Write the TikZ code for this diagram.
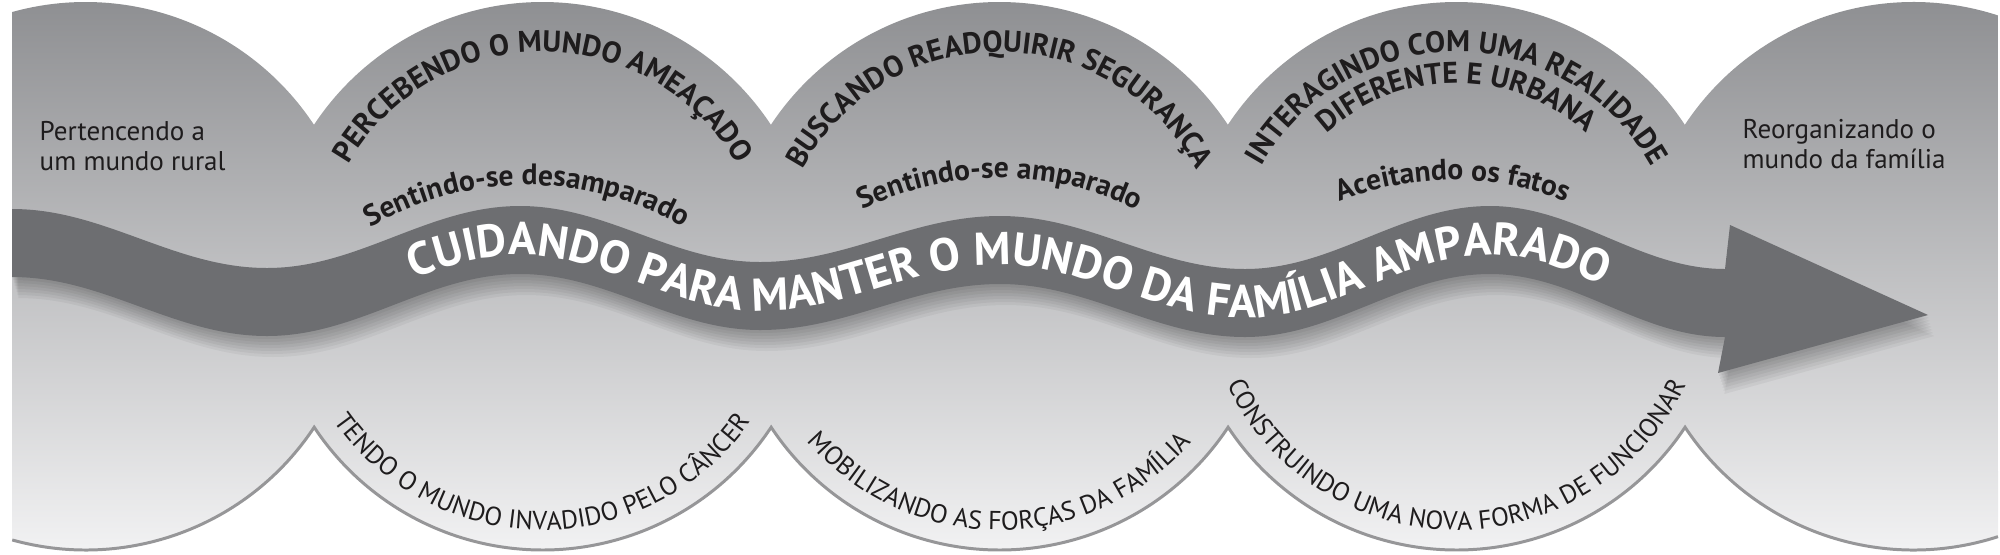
\documentclass[tikz,border=0pt]{standalone}
\usepackage{fontspec}
\setmainfont{PT Sans}
\usetikzlibrary{decorations.text}

\definecolor{bandgray}{RGB}{109,110,113}
\definecolor{rimgray}{RGB}{150,150,152}
\definecolor{topgray}{RGB}{138,139,142}
\definecolor{lowgray}{RGB}{246,246,247}
\definecolor{inkgray}{RGB}{30,28,29}

\newcommand{\bandfont}{\fontsize{13.1}{14}\selectfont\bfseries}
\newcommand{\arcbold}{\fontsize{8.5}{10}\selectfont\bfseries}
\newcommand{\arclight}{\fontsize{7.4}{9}\selectfont}
\newcommand{\feelfont}{\fontsize{8.4}{9.5}\selectfont\bfseries}
\newcommand{\sidefont}{\fontsize{7.7}{8.4}\selectfont}
% outline of the wavy arrow
\newcommand{\bandpath}{(12,-209) cos (139.5,-238.5) sin (267,-268) cos (393.5,-237) sin (520,-206)
  cos (640,-234) sin (760,-262) cos (880,-239) sin (1000,-216)
  cos (1122.5,-242.5) sin (1245,-269) cos (1367.5,-237.5) sin (1490,-206)
  cos (1607.5,-237.5) sin (1725,-269)
  -- (1730,-225) -- (1928,-315) -- (1718,-373) -- (1725,-337)
  cos (1607.5,-305.5) sin (1490,-274) cos (1367.5,-305.5) sin (1245,-337)
  cos (1122.5,-310.5) sin (1000,-284) cos (880,-307) sin (760,-330)
  cos (640,-302) sin (520,-274) cos (393.5,-305) sin (267,-336)
  cos (139.5,-306.5) sin (12,-277) -- cycle}

\tikzset{
  rim/.style={draw=rimgray,line width=0.85pt},
  bandfill/.style={fill=bandgray},
  bandshadow/.style={fill=black,opacity=0.045},
  toparc/.style={decorate,decoration={text along path,text align=center,text color=inkgray}},
  lowarc/.style={decorate,decoration={text along path,text align=center,text color=inkgray}},
  bandtext/.style={decorate,decoration={text along path,text align={center,left indent=7.4pt},text color=white}},
  sidetext/.style={inner sep=0pt,align=left,text=inkgray,font=\sidefont}
}

\begin{document}
\begin{tikzpicture}[x=0.01cm,y=0.01cm]
\useasboundingbox (0,0) rectangle (2000,-554);
%=======scallops=============
\shade[top color=topgray,bottom color=lowgray] (12,-12.05)
  arc[start angle=105.56,end angle=33.5,radius=274]
  arc[start angle=146.5,end angle=33.5,radius=274]
  arc[start angle=146.5,end angle=33.5,radius=274]
  arc[start angle=146.5,end angle=33.5,radius=274]
  arc[start angle=146.5,end angle=72.04,radius=274]
  -- (1998,-536.65)
  arc[start angle=-72.04,end angle=-146.5,radius=274]
  arc[start angle=-33.5,end angle=-146.5,radius=274]
  arc[start angle=-33.5,end angle=-146.5,radius=274]
  arc[start angle=-33.5,end angle=-146.5,radius=274]
  arc[start angle=-33.5,end angle=-105.56,radius=274] -- cycle;
\draw[rim] (1998,-536.65)
  arc[start angle=-72.04,end angle=-146.5,radius=274]
  arc[start angle=-33.5,end angle=-146.5,radius=274]
  arc[start angle=-33.5,end angle=-146.5,radius=274]
  arc[start angle=-33.5,end angle=-146.5,radius=274]
  arc[start angle=-33.5,end angle=-105.56,radius=274];
%=======side texts=============
\node (rural) [sidetext,anchor=north west] at (39,-121) {Pertencendo a\\um mundo rural};
\node (reorg) [sidetext,anchor=north west] at (1742,-119) {Reorganizando o\\mundo da família};
%=======arrow=============
\foreach \s in {3,6,...,21}
  \fill[bandshadow,shift={(0.3*\s,-\s)}] \bandpath;
\fill[bandfill] \bandpath;
\path[bandtext,decoration={text={|\bandfont|CUIDANDO PARA MANTER O MUNDO DA FAMÍLIA AMPARADO}}]
  (267,-317) cos (393.5,-286) sin (520,-255) cos (640,-283) sin (760,-311)
  cos (880,-288) sin (1000,-265) cos (1122.5,-291.5) sin (1245,-318)
  cos (1367.5,-286.5) sin (1490,-255) cos (1607.5,-286.5) sin (1725,-318);
%=======upper arcs=============
\path[toparc,decoration={text={|\arcbold|PERCEBENDO O MUNDO AMEAÇADO}}] (318.5,-276) arc[start angle=180,end angle=0,radius=224];
\path[toparc,decoration={text={|\arcbold|BUSCANDO READQUIRIR SEGURANÇA}}] (775.5,-276) arc[start angle=180,end angle=0,radius=224];
\path[toparc,decoration={text={|\arcbold|INTERAGINDO COM UMA REALIDADE}}] (1232.5,-276) arc[start angle=180,end angle=0,radius=224];
\path[toparc,decoration={text={|\arcbold|DIFERENTE E URBANA}}] (1263.5,-276) arc[start angle=180,end angle=0,radius=193];
%=======feelings=============
\path[toparc,decoration={text={|\feelfont|Sentindo-se desamparado}}] (258.5,-340) arc[start angle=150,end angle=30,radius=310];
\path[toparc,decoration={text={|\feelfont|Sentindo-se amparado}}] (731.5,-333) arc[start angle=150,end angle=30,radius=310];
\path[toparc,decoration={text={|\feelfont|Aceitando os fatos}}] (1184.5,-335) arc[start angle=150,end angle=30,radius=310];
%=======lower arcs=============
\path[lowarc,decoration={text={|\arclight|TENDO O MUNDO INVADIDO PELO CÂNCER}}] (288.5,-276) arc[start angle=180,end angle=360,radius=254];
\path[lowarc,decoration={text={|\arclight|MOBILIZANDO AS FORÇAS DA FAMÍLIA}}] (745.5,-276) arc[start angle=180,end angle=360,radius=254];
\path[lowarc,decoration={text={|\arclight|CONSTRUINDO UMA NOVA FORMA DE FUNCIONAR}}] (1202.5,-276) arc[start angle=180,end angle=360,radius=254];
\end{tikzpicture}
\end{document}
